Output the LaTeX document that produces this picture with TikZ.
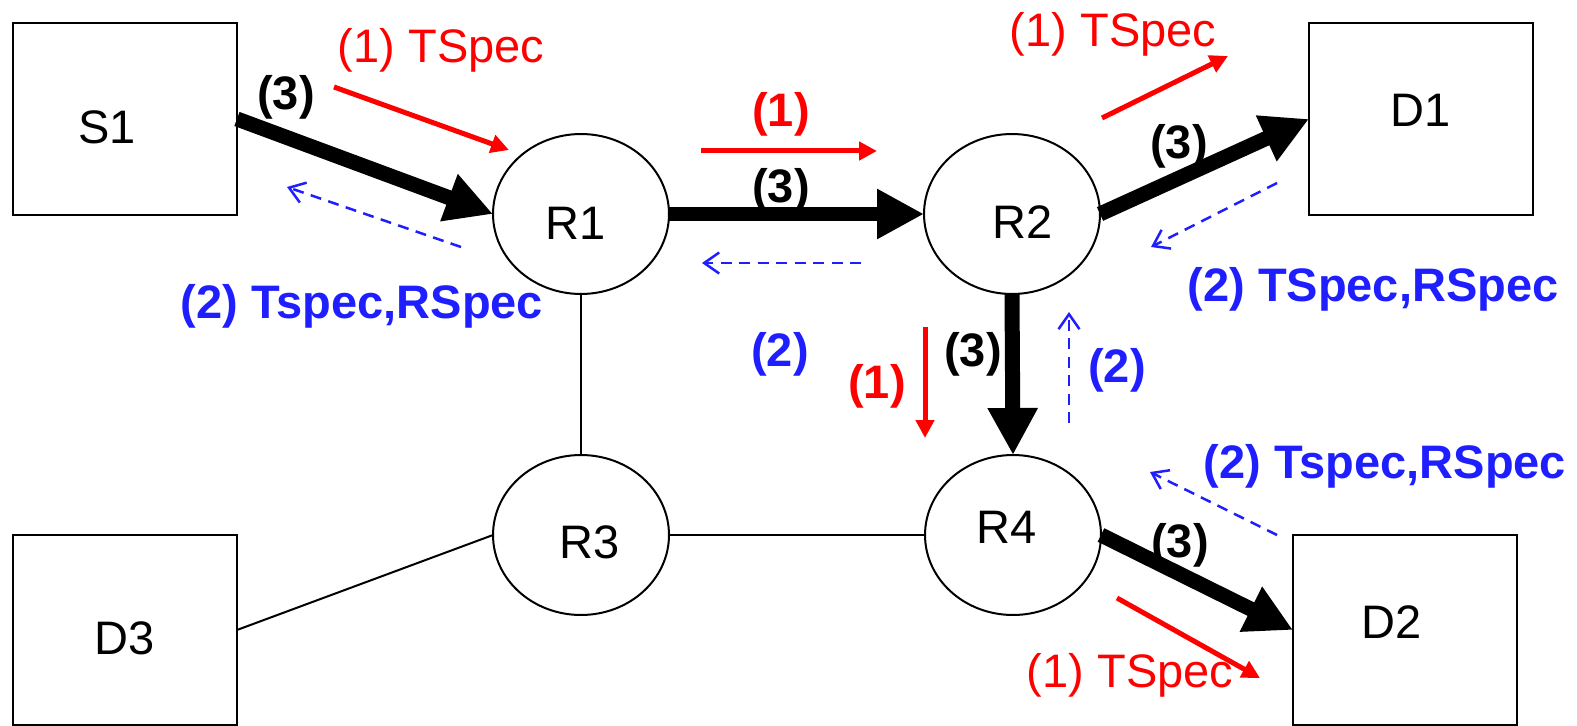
\documentclass[tikz,border=0pt]{standalone}
\usepackage{fontspec}
\setmainfont{Liberation Sans}
\usetikzlibrary{arrows.meta,shapes.geometric}
\definecolor{sigblue}{RGB}{30,30,255}
\definecolor{sigred}{RGB}{255,0,0}
\begin{document}
\begin{tikzpicture}[x=0.02cm,y=-0.02cm,
  font=\fontsize{26.75}{30}\selectfont,
  host/.style={draw,line width=0.04cm,inner sep=0,outer sep=0,minimum width=4.48cm,anchor=north west},
  router/.style={draw,ellipse,line width=0.04cm,inner sep=0,outer sep=0,minimum width=3.52cm,minimum height=3.2cm},
  wire/.style={line width=0.04cm},
  datamsg/.style={line width=0.3cm,-{Triangle[length=0.94cm,width=0.94cm]}},
  pathmsg/.style={sigred,line width=0.1cm,-{Triangle[length=0.36cm,width=0.36cm]}},
  resvmsg/.style={sigblue,line width=0.05cm,dash pattern=on 0.22cm off 0.15cm,-{Straight Barb[length=0.3cm,width=0.42cm]}},
  tag/.style={inner sep=0},
  ptag/.style={tag,text=sigred},
  pnum/.style={tag,text=sigred,font=\fontsize{26.75}{30}\selectfont\bfseries},
  rtag/.style={tag,text=sigblue,font=\fontsize{26.75}{30}\selectfont\bfseries},
  dnum/.style={tag,font=\fontsize{26.75}{30}\selectfont\bfseries}
]
\useasboundingbox (0,0) rectangle (1577,726);

% hosts
\node[host,minimum height=3.84cm,text height=0.993cm] (S1) at (13,23) {\kern-0.72cm S1};
\node[host,minimum height=3.84cm,text height=0.313cm] (D1) at (1309,23) {D1};
\node[host,minimum height=3.8cm,text height=0.993cm] (D3) at (13,535) {D3};
\node[host,minimum height=3.8cm,text height=0.353cm] (D2) at (1293,535) {\kern-0.52cm D2};

% routers
\node[router,text height=1.033cm] (R1) at (581,214) {\kern-0.2cm R1};
\node[router,text height=0.993cm] (R2) at (1012,214) {\kern0.44cm R2};
\node[router,text height=0.953cm] (R3) at (581,535) {\kern0.36cm R3};
\node[router,text height=0.353cm] (R4) at (1013,535) {\kern-0.24cm R4};

% message labels
\node[ptag] (m1a) at (441,50) {(1) TSpec};
\node[ptag] (m1b) at (1113,34) {(1) TSpec};
\node[ptag] (m1c) at (1130,675) {(1) TSpec};
\node[pnum] (m1d) at (781,114) {(1)};
\node[pnum] (m1e) at (877,386) {(1)};
\node[rtag] (m2a) at (362,306) {(2) Tspec,RSpec};
\node[rtag] (m2b) at (1373,289) {(2) TSpec,RSpec};
\node[rtag] (m2c) at (1385,466) {(2) Tspec,RSpec};
\node[rtag] (m2d) at (780,354) {(2)};
\node[rtag] (m2e) at (1117,370) {(2)};
\node[dnum] (m3a) at (286,97) {(3)};
\node[dnum] (m3b) at (781,190) {(3)};
\node[dnum] (m3c) at (1179,146) {(3)};
\node[dnum] (m3d) at (973,354) {(3)};
\node[dnum] (m3e) at (1180,545) {(3)};

% physical links
\draw[wire] (R1.south) -- (R3.north);
\draw[wire] (R3.east) -- (R4.west);
\draw[wire] (D3.east) -- (R3.west);

% data flow
\draw[datamsg] (S1.east) -- (R1.west);
\draw[datamsg] (R1.east) -- (R2.west);
\draw[datamsg] (R2.east) -- (D1.west);
\draw[datamsg] (R2.south) -- (R4.north);
\draw[datamsg] (R4.east) -- (D2.west);

% path messages
\coordinate (p1s) at (334,87);   \coordinate (p1e) at (509,150);
\coordinate (p2s) at (701,151);  \coordinate (p2e) at (877,151);
\coordinate (p3s) at (1102,118); \coordinate (p3e) at (1228,56);
\coordinate (p4s) at (925,327);  \coordinate (p4e) at (925,438);
\coordinate (p5s) at (1117,598); \coordinate (p5e) at (1260,678);
\draw[pathmsg] (p1s) -- (p1e);
\draw[pathmsg] (p2s) -- (p2e);
\draw[pathmsg] (p3s) -- (p3e);
\draw[pathmsg] (p4s) -- (p4e);
\draw[pathmsg] (p5s) -- (p5e);

% reservation messages
\coordinate (r1s) at (461,247);  \coordinate (r1e) at (287,187);
\coordinate (r2s) at (861,263);  \coordinate (r2e) at (702,263);
\coordinate (r3s) at (1277,183); \coordinate (r3e) at (1151,247);
\coordinate (r4s) at (1069,423); \coordinate (r4e) at (1069,312);
\coordinate (r5s) at (1277,535); \coordinate (r5e) at (1150,472);
\draw[resvmsg] (r1s) -- (r1e);
\draw[resvmsg] (r2s) -- (r2e);
\draw[resvmsg] (r3s) -- (r3e);
\draw[resvmsg] (r4s) -- (r4e);
\draw[resvmsg] (r5s) -- (r5e);
\end{tikzpicture}
\end{document}
